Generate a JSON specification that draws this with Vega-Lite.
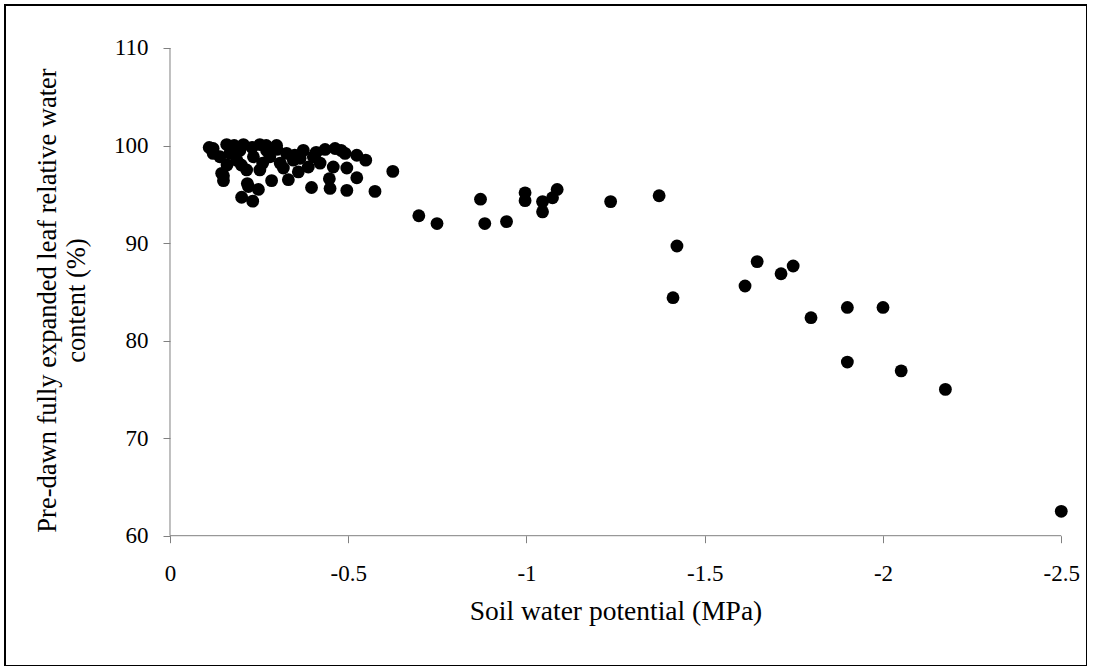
{
  "$schema": "https://vega.github.io/schema/vega-lite/v6.json",
  "width": 1082,
  "height": 661,
  "autosize": {"type": "none"},
  "padding": {"left": 5, "top": 5, "right": 0, "bottom": 0},
  "background": "white",
  "config": {
    "view": {"stroke": "#000000", "strokeWidth": 2},
    "font": "Liberation Serif"
  },
  "encoding": {
    "x": {
      "field": "x", "type": "quantitative",
      "scale": {"domain": [0.4628, -2.5722], "nice": false, "zero": false},
      "axis": {
        "orient": "bottom", "offset": -130.3, "values": [0, -0.5, -1, -1.5, -2, -2.5],
        "domain": false, "grid": false, "tickColor": "#808080", "tickSize": 7,
        "labelFont": "Liberation Serif", "labelFontSize": 23, "labelColor": "#000000",
        "labelPadding": 20, "labelFlush": false, "labelOverlap": false,
        "labelExpr": "toString(datum.value)",
        "title": "Soil water potential (MPa)",
        "titleFont": "Liberation Serif", "titleFontSize": 27.5, "titleFontWeight": "normal",
        "titleColor": "#000000", "titleX": 610.5, "titleY": 84,
        "titleAlign": "center", "titleBaseline": "alphabetic"
      }
    },
    "y": {
      "field": "y", "type": "quantitative",
      "scale": {"domain": [46.64, 114.408], "nice": false, "zero": false},
      "axis": {
        "orient": "left", "offset": -165, "values": [60, 70, 80, 90, 100, 110],
        "domain": false, "grid": false, "tickColor": "#808080", "tickSize": 7,
        "labelFont": "Liberation Serif", "labelFontSize": 23, "labelColor": "#000000",
        "labelPadding": 15, "labelFlush": false, "labelOverlap": false,
        "title": ["Pre-dawn fully expanded leaf relative water", "content (%)"],
        "titleFont": "Liberation Serif", "titleFontSize": 26.5, "titleFontWeight": "normal",
        "titleColor": "#000000", "titleX": -136, "titleY": 295, "titleAngle": -90,
        "titleAlign": "center", "titleBaseline": "top", "titleLineHeight": 29
      }
    }
  },
  "layer": [
    {
      "data": {"values": [{"x": 0, "y": 60, "y2": 110}]},
      "mark": {"type": "rule", "color": "#808080", "strokeWidth": 1},
      "encoding": {
        "y2": {"field": "y2"}
      }
    },
    {
      "data": {"values": [{"x": 0, "x2": -2.5, "y": 60}]},
      "mark": {"type": "rule", "color": "#808080", "strokeWidth": 1},
      "encoding": {
        "x2": {"field": "x2"}
      }
    },
    {
      "data": {"values": [
        {"x": -0.110, "y": 99.8}, {"x": -0.121, "y": 99.2}, {"x": -0.121, "y": 99.7},
        {"x": -0.140, "y": 98.85}, {"x": -0.145, "y": 97.15}, {"x": -0.150, "y": 96.4},
        {"x": -0.150, "y": 96.9}, {"x": -0.159, "y": 100.1}, {"x": -0.160, "y": 98.0},
        {"x": -0.168, "y": 99.2}, {"x": -0.180, "y": 100.0}, {"x": -0.187, "y": 98.5},
        {"x": -0.196, "y": 99.5}, {"x": -0.200, "y": 98.0}, {"x": -0.201, "y": 94.7},
        {"x": -0.206, "y": 100.1}, {"x": -0.215, "y": 97.5}, {"x": -0.217, "y": 96.1},
        {"x": -0.220, "y": 95.8}, {"x": -0.230, "y": 99.8}, {"x": -0.232, "y": 94.3},
        {"x": -0.234, "y": 98.85}, {"x": -0.248, "y": 95.5}, {"x": -0.252, "y": 100.1},
        {"x": -0.252, "y": 97.5}, {"x": -0.260, "y": 98.2}, {"x": -0.270, "y": 100.0},
        {"x": -0.271, "y": 99.5}, {"x": -0.280, "y": 98.85}, {"x": -0.285, "y": 96.4},
        {"x": -0.299, "y": 100.0}, {"x": -0.300, "y": 99.6}, {"x": -0.309, "y": 98.2},
        {"x": -0.318, "y": 97.7}, {"x": -0.327, "y": 99.2}, {"x": -0.332, "y": 96.5},
        {"x": -0.346, "y": 98.5}, {"x": -0.350, "y": 99.0}, {"x": -0.360, "y": 97.3},
        {"x": -0.365, "y": 98.7}, {"x": -0.374, "y": 99.5}, {"x": -0.388, "y": 97.8},
        {"x": -0.397, "y": 95.7}, {"x": -0.402, "y": 98.85}, {"x": -0.410, "y": 99.3},
        {"x": -0.421, "y": 98.2}, {"x": -0.435, "y": 99.6}, {"x": -0.447, "y": 96.6},
        {"x": -0.449, "y": 95.6}, {"x": -0.458, "y": 97.8}, {"x": -0.463, "y": 99.7},
        {"x": -0.480, "y": 99.5}, {"x": -0.491, "y": 99.2}, {"x": -0.496, "y": 97.7},
        {"x": -0.496, "y": 95.4}, {"x": -0.524, "y": 99.0}, {"x": -0.524, "y": 96.7},
        {"x": -0.549, "y": 98.5}, {"x": -0.575, "y": 95.3}, {"x": -0.625, "y": 97.35},
        {"x": -0.698, "y": 92.8}, {"x": -0.749, "y": 92.0}, {"x": -0.871, "y": 94.5},
        {"x": -0.883, "y": 92.0}, {"x": -0.944, "y": 92.2}, {"x": -0.996, "y": 95.15},
        {"x": -0.996, "y": 94.35}, {"x": -1.045, "y": 94.25}, {"x": -1.045, "y": 93.2},
        {"x": -1.073, "y": 94.65}, {"x": -1.086, "y": 95.5}, {"x": -1.236, "y": 94.25},
        {"x": -1.372, "y": 94.85}, {"x": -1.422, "y": 89.7}, {"x": -1.411, "y": 84.4},
        {"x": -1.613, "y": 85.6}, {"x": -1.647, "y": 88.1}, {"x": -1.714, "y": 86.85},
        {"x": -1.748, "y": 87.65}, {"x": -1.798, "y": 82.35}, {"x": -1.900, "y": 83.4},
        {"x": -2.000, "y": 83.4}, {"x": -1.900, "y": 77.8}, {"x": -2.051, "y": 76.9},
        {"x": -2.175, "y": 75.0}, {"x": -2.500, "y": 62.5}
      ]},
      "mark": {"type": "circle", "size": 165, "color": "#000000", "opacity": 1}
    }
  ]
}
